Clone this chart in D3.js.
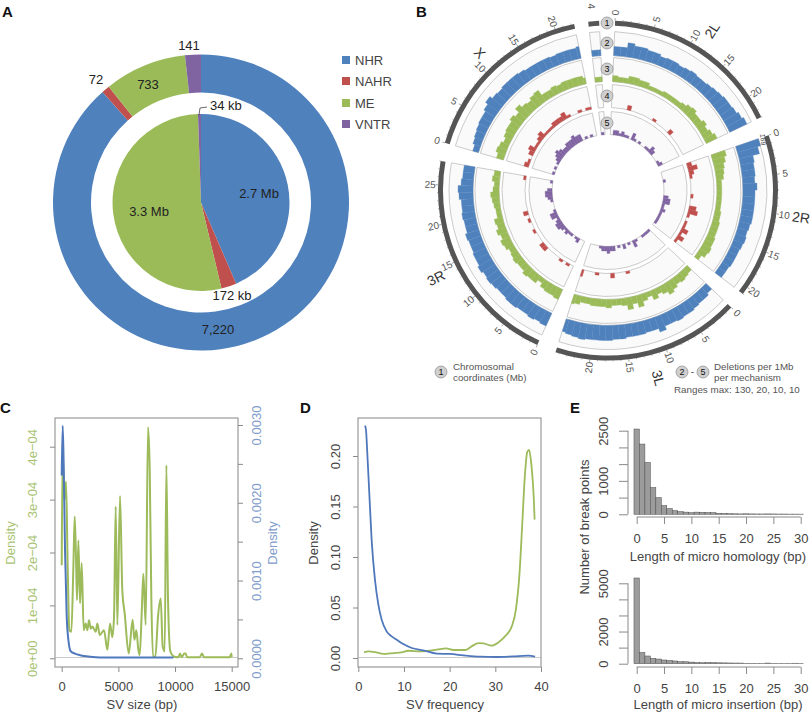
<!DOCTYPE html>
<html><head><meta charset="utf-8">
<script src="https://cdn.jsdelivr.net/npm/d3@7/dist/d3.min.js"></script>
<style>html,body{margin:0;padding:0;background:#fff}svg{display:block;font-family:"Liberation Sans",Arial,sans-serif}</style>
</head><body><svg id="c" width="810" height="713"></svg>
<script>
// ---- Panel A
const mechanisms = ["NHR","NAHR","ME","VNTR"];
const mechColors = ["#4F81BD","#C0504D","#9BBB59","#8064A2"];
const svCounts = [7220,72,733,141];
const svBases = [2700,172,3300,34];
// ---- Panel B: per-1Mb bins (track 2 blue, 3 green, 4 red, 5 purple)
const chromNames = ["2L","2R","3L","3R","X","4"];
const chromLengths = [23,21,24.5,28,22.4,1.35];
const chromStartDeg = [2.4,71,133.5,204.6,286.3,353.3];
const chromEndDeg = [64.4,127.5,198,280,348.5,357];
const chromLabelDeg = [33,98,165,243,317,null];
const chromLabelRadius = [191,195,194,193,188,null];
const blueNHR = [
 [49,49,76,65,65,59,59,49,54,54,49,54,59,54,54,59,65,70,76,76,81,92,103],
 [130,113,76,70,70,65,76,65,65,65,65,65,59,54,59,54,49,49,49,43,43],
 [43,54,54,59,65,65,70,65,65,86,65,65,70,70,70,76,76,81,81,81,81,86,81,76,70],
 [76,70,76,70,70,76,76,70,70,76,81,76,86,76,76,70,70,76,65,65,70,65,65,76,81,65,59,59],
 [32,43,49,54,59,59,70,86,70,65,70,70,70,65,59,59,59,59,54,59,59,59,65],
 [32,32]];
const greenME = [
 [5,4,4,6,6,5,5,3,3,3,4,4,4,4,5,7,8,6,6,8,6,8,10],
 [12,10,8,7,6,4,4,4,4,4,4,5,5,6,6,6,7,7,8,7,4],
 [5,6,7,6,8,10,7,5,8,4,6,10,6,10,6,5,5,7,6,6,6,5,5,7,8],
 [9,8,8,7,4,7,7,8,6,6,7,6,5,7,8,6,8,6,7,4,4,5,6,7,5,4,6,5],
 [6,8,7,5,7,8,8,10,8,12,9,8,10,11,6,6,7,6,7,7,7,7,5],
 [4,4]];
const redNAHR = [
 [0,0,0,0,2,0,0,0,0,0,0,1,0,0,0,0,2,0,0,0,0,0,0],
 [2,4,2,1,0,0,0,0,1,0,0,3,4,1,0,1,1,3,1,3,1],
 [0,0,0,0,0,0,0,0,0,0,0,0,1,0,0,0,2,0,0,0,1,0,0,0,3],
 [0,1,0,1,0,0,0,0,2,2,0,0,0,1,0,0,1,0,2,0,0,0,0,0,0,0,0,1],
 [2,1,0,2,3,1,1,2,3,1,1,1,2,2,2,3,1,0,0,1,0,1,1],
 [0,0]];
const purpleVNTR = [
 [0,2,2,1,2,1,1,0,3,1,0,1,0,0,1,1,3,2,0,0,0,1,2],
 [0,0,0,1,0,0,0,0,0,2,3,3,1,1,2,1,1,1,1,1,0],
 [1,1,1,1,0,0,1,3,0,1,0,2,0,1,0,2,2,3,2,2,1,0,0,0,0],
 [0,0,2,1,0,1,1,2,1,2,3,3,2,1,3,3,1,0,0,0,1,2,3,3,2,0,0,1],
 [1,0,1,0,1,2,3,4,3,2,2,3,3,3,4,3,3,0,1,0,1,0,0],
 [1,0]];
const trackNames = ["blue","green","red","purple"];
const trackData = [blueNHR,greenME,redNAHR,purpleVNTR];
const trackMax = [130,20,10,10];
const trackColors = ["#4F81BD","#9BBB59","#C0504D","#8064A2"];
const trackInner = [135,109,83,56];
const trackOuter = [159,133,106,79];
// ---- Panel C
const sizeGreenX = [0,88,235,382,529,676,852,1029,1147,1265,1352,1470,1617,1764,1940,2117,2264,2411,2558,2705,3000,3147,3352,3587,3734,4029,4264,4470,4617,4764,4911,5146,5352,5558,5911,6264,6411,6587,6764,6882,7058,7205,7411,7617,7764,7911,8058,8264,8499,8735,8911,9088,9235,9382,9588,9940,10293,10440,10588,10823,10940,11058,12176,12382,12558,14823,14970,15000];
const densGreen = [1.76e-4,3.97e-4,2.99e-4,3.34e-4,1.73e-4,5.3e-5,5e-5,1.73e-4,2.68e-4,1.86e-4,1.1e-4,2.23e-4,1.04e-4,1.8e-4,5.3e-5,6.6e-5,5.3e-5,7.2e-5,5.6e-5,6e-5,5e-5,6.6e-5,4.4e-5,5e-5,5.3e-5,1.6e-5,6.6e-5,4e-5,7.9e-5,2.87e-4,6.3e-5,3.07e-4,1.26e-4,8.5e-5,9e-6,7.3e-5,3.5e-5,5.3e-5,1.6e-5,6e-6,8.5e-5,1.6e-4,6.3e-5,4.37e-4,3.6e-4,1.1e-4,3e-6,3e-6,7.9e-5,1.13e-4,2.2e-5,1.3e-5,3.65e-4,1.1e-4,1.3e-5,3e-6,2e-6,9e-6,2e-6,9e-6,9e-6,2e-6,2e-6,9e-6,2e-6,2e-6,9e-6,2e-6];
const sizeBlueX = [0,88,176,294,441,588,794,1176,1617,2500,3382,6323,9853];
const densBlue = [0.00235,0.00299,0.00247,0.00139,0.00054,0.00024,0.00009,0.00006,0.00004,0.00002,0.00001,0.00001,0.00001];
const sizeTicks = [0,5000,10000,15000];
const greenAxisTicks = [0,1e-4,2e-4,3e-4,4e-4];
const greenAxisLabels = ["0e+00","1e\u221204","2e\u221204","3e\u221204","4e\u221204"];
const blueAxisTicks = [0,0.0005,0.001,0.0015,0.002,0.0025,0.003];
const blueAxisLabels = ["0.0000","","0.0010","","0.0020","","0.0030"];
// ---- Panel D
const freqBlueX = [1.46,1.68,1.97,2.41,2.92,3.65,4.38,5.11,6.2,7.3,8.4,9.85,11.7,14.2,17.2,20.1,23,26.6,30.3,33.9,37.2,38.7];
const freqBlueY = [0.23,0.226,0.203,0.163,0.117,0.0775,0.053,0.038,0.0264,0.0214,0.0181,0.0138,0.0099,0.0076,0.0043,0.004,0.0026,0.0013,0.001,0.0016,0.0023,0.0013];
const freqGreenX = [1.25,2.2,3.65,5.5,7.7,9.5,10.9,13.5,17.2,19.2,20.8,23.4,24.8,26.3,27.4,29.2,30.7,32.1,33.6,34.5,35.3,35.9,36.5,37,37.4,37.9,38.4,38.6];
const freqGreenY = [0.0056,0.0066,0.0059,0.0040,0.0049,0.0056,0.0072,0.0066,0.0082,0.0095,0.0079,0.0079,0.0115,0.0148,0.0145,0.0122,0.0155,0.0214,0.0313,0.0478,0.0840,0.1330,0.1825,0.2040,0.2060,0.1910,0.1600,0.1370];
const freqTicksX = [0,10,20,30,40];
const freqTicksY = [0,0.05,0.1,0.15,0.2];
// ---- Panel E
const homologyLen = d3.range(0,31);
const homologyCount = [2550,2100,1550,800,500,260,170,110,80,65,50,65,60,55,50,30,25,20,15,12,15,12,10,10,12,10,8,8,6,6,5];
const insertionLen = d3.range(0,31);
const insertionCount = [5330,700,480,330,290,230,200,170,130,120,100,70,60,70,65,55,50,45,40,40,25,25,20,20,40,20,15,15,15,30,15];
const homologyTicksY = [0,500,1000,1500,2000,2500];
const homologyLabelsY = ["0","","1000","","","2500"];
const insertionTicksY = [0,1000,2000,3000,4000,5000];
const insertionLabelsY = ["0","","2000","","","5000"];
const lenTicks = [0,5,10,15,20,25,30];

const svg = d3.select("#c");
const textCol = "#444", axisCol = "#8a8a8a";
const T = (g,x,y,s,o={})=>g.append("text").attr("x",x).attr("y",y).text(s)
  .attr("font-size",o.size||13).attr("fill",o.fill||textCol)
  .attr("text-anchor",o.anchor||"start").attr("font-weight",o.weight||"normal")
  .attr("transform",o.rot!=null?`rotate(${o.rot} ${x} ${y})`:null);

[["A",2,17],["B",416,17],["C",0,413],["D",300,413],["E",570,413]].forEach(d=>T(svg,d[1],d[2],d[0],{size:15,weight:"bold",fill:"#111"}));

// ---------- A
const gA = svg.append("g").attr("transform","translate(201,202.5)");
const pie = d3.pie().sort(null);
const arcOuter = d3.arc().innerRadius(110).outerRadius(148);
const arcInner = d3.arc().innerRadius(0).outerRadius(88.5);
gA.selectAll(".o").data(pie(svCounts)).join("path").attr("d",arcOuter).attr("fill",(d,i)=>mechColors[i]);
gA.selectAll(".i").data(pie(svBases)).join("path").attr("d",arcInner).attr("fill",(d,i)=>mechColors[i]);
const pieText = {size:13,fill:"#222"};
[["141",189,50],["72",96,84],["733",148,89],["2.7 Mb",259,198],["3.3 Mb",149,216],["172 kb",232,300],["7,220",218,334]]
 .forEach(d=>T(svg,d[1],d[2],d[0],{...pieText,anchor:"middle"}));
T(svg,210,110,"34 kb",pieText);
svg.append("path").attr("d","M199,115L200,108L207,107").attr("fill","none").attr("stroke","#444").attr("stroke-width",.8);
mechanisms.forEach((m,i)=>{
  const y=[60,81,103,124][i];
  svg.append("rect").attr("x",342).attr("y",y-4).attr("width",8).attr("height",8).attr("fill",mechColors[i]);
  T(svg,355,y+4.5,m,{size:13,fill:"#444"});
});

// ---------- B
const gB = svg.append("g").attr("transform","translate(608,190.5)");
const rad = d=>d*Math.PI/180;
const mkArc = d3.arc();
chromNames.forEach((name,c)=>{
  const ang = d3.scaleLinear().domain([0,chromLengths[c]]).range([rad(chromStartDeg[c]),rad(chromEndDeg[c])]);
  gB.append("path").attr("d",mkArc({innerRadius:165,outerRadius:170,startAngle:ang(0),endAngle:ang(chromLengths[c])})).attr("fill","#555");
  const place=(mb,r)=>{const a=ang(mb);return [Math.sin(a)*r,-Math.cos(a)*r];};
  d3.range(0,Math.floor(chromLengths[c])+1).forEach(mb=>{
    if(name==="4")return;
    const major = mb%5===0;
    const p0=place(mb,170),p1=place(mb,major?172.5:171);
    gB.append("line").attr("x1",p0[0]).attr("y1",p0[1]).attr("x2",p1[0]).attr("y2",p1[1]).attr("stroke","#666").attr("stroke-width",.6);
    if(major){
      const deg=ang(mb)*180/Math.PI, p=place(mb,178);
      const rot=deg<180?deg-90:deg-270;
      gB.append("text").attr("transform",`translate(${p[0]},${p[1]}) rotate(${rot})`).attr("text-anchor","middle").attr("dy","0.35em").attr("font-size",10).attr("fill","#555").text(mb);
    }
  });
  if(name==="4"){
    const p=place(chromLengths[c]/2,185);
    gB.append("text").attr("transform",`translate(${p[0]-1},${p[1]}) rotate(85)`).attr("text-anchor","middle").attr("dy","0.35em").attr("font-size",10).attr("fill","#555").text("4");
  }
  if(chromLabelDeg[c]!=null){
    const a=rad(chromLabelDeg[c]), r=chromLabelRadius[c], deg=chromLabelDeg[c];
    const rot=deg<180?deg-90:deg-270;
    gB.append("text").attr("transform",`translate(${Math.sin(a)*r},${-Math.cos(a)*r}) rotate(${rot})`).attr("text-anchor","middle").attr("dy","0.35em").attr("font-size",14).attr("fill","#333").text(name);
  }
  trackNames.forEach((tn,t)=>{
    const rs=d3.scaleLinear().domain([0,trackMax[t]]).range([trackInner[t],trackOuter[t]]);
    gB.append("path").attr("d",mkArc({innerRadius:trackInner[t],outerRadius:trackOuter[t],startAngle:ang(0),endAngle:ang(chromLengths[c])}))
      .attr("fill","#fafafa").attr("stroke","#b5b5b5").attr("stroke-width",.7);
    gB.append("g").selectAll("path").data(trackData[t][c]).join("path")
      .attr("d",(v,i)=>v>0?mkArc({innerRadius:rs(0),outerRadius:rs(v),startAngle:ang(i),endAngle:ang(Math.min(i+1,chromLengths[c]))}):null)
      .attr("fill",trackColors[t]).attr("stroke",trackColors[t]).attr("stroke-width",.35);
  });
});
gB.append("text").attr("transform","translate(155,-51) rotate(85)").attr("text-anchor","middle").attr("dy","0.35em").attr("font-size",7).attr("fill","#444").text("169");

const badge=(x,y,s)=>{
  svg.append("circle").attr("cx",x).attr("cy",y).attr("r",6).attr("fill","#cfcfcf").attr("stroke","#8a8a8a").attr("stroke-width",.7);
  T(svg,x,y+3.2,s,{size:9,anchor:"middle",fill:"#111"});
};
["1","2","3","4","5"].forEach((s,i)=>badge(607,[23,43,69,96,123][i],s));
badge(441,372,"1"); badge(682,372,"2"); badge(703,372,"5");
T(svg,692.5,375,"-",{size:10,anchor:"middle",fill:"#555"});
const noteText={size:9.8,fill:"#555"};
T(svg,453,369.5,"Chromosomal",noteText); T(svg,453,381,"coordinates (Mb)",noteText);
T(svg,714,369.5,"Deletions per 1Mb",noteText); T(svg,714,381,"per mechanism",noteText);
T(svg,674,393,"Ranges max: 130, 20, 10, 10",noteText);

// ---------- axis helpers
function styleAxis(g,color){
  g.selectAll("line").attr("stroke",axisCol);
  g.select(".domain").attr("stroke",axisCol);
  g.selectAll("text").attr("fill",color||textCol).attr("font-size",13).attr("font-family","Liberation Sans");
}
function rotLabels(g,off,color){
  g.selectAll("text").attr("transform",`translate(${off},0) rotate(-90)`).attr("x",0).attr("y",0).attr("dy",0).attr("text-anchor","middle").attr("fill",color||textCol).attr("font-size",13);
}
const noDomain=g=>g.select(".domain").remove();
const curve = d3.curveMonotoneX;
const box=(x,y,w,h)=>svg.append("rect").attr("x",x).attr("y",y).attr("width",w).attr("height",h).attr("fill","none").attr("stroke","#9a9a9a").attr("stroke-width",1.2);
const zeroLine=(x1,x2,y)=>svg.append("line").attr("x1",x1).attr("x2",x2).attr("y1",y).attr("y2",y).attr("stroke","#ccc").attr("stroke-width",1);

// ---------- C
const greenLabel="#a9c373", blueLabel="#7f9ccb";
const xC=d3.scaleLinear().domain([0,15000]).range([61.7,231.7]);
const yCg=d3.scaleLinear().domain([0,4e-4]).range([658.3,446.7]);
const yCb=d3.scaleLinear().domain([0,0.003]).range([658.3,425]);
zeroLine(55,238,657.5);
svg.append("path").attr("d",d3.line().x((d,i)=>xC(sizeGreenX[i])).y(d=>yCg(d)).curve(curve)(densGreen)).attr("fill","none").attr("stroke","#9DBB5A").attr("stroke-width",2);
svg.append("path").attr("d",d3.line().x((d,i)=>xC(sizeBlueX[i])).y(d=>yCb(d)).curve(curve)(densBlue)).attr("fill","none").attr("stroke","#4F78BC").attr("stroke-width",2);
box(55,418,183,249);
let ax=svg.append("g").attr("transform","translate(0,667)").call(d3.axisBottom(xC).tickValues(sizeTicks).tickSize(5).tickPadding(10).tickFormat(d3.format("d")));
styleAxis(ax); noDomain(ax);
ax=svg.append("g").attr("transform","translate(55,0)").call(d3.axisLeft(yCg).tickValues(greenAxisTicks).tickSize(5).tickFormat((d,i)=>greenAxisLabels[i]));
styleAxis(ax); noDomain(ax); rotLabels(ax,-18,greenLabel);
ax=svg.append("g").attr("transform","translate(238,0)").call(d3.axisRight(yCb).tickValues(blueAxisTicks).tickSize(5).tickFormat((d,i)=>blueAxisLabels[i]));
styleAxis(ax); noDomain(ax); rotLabels(ax,23,blueLabel);
T(svg,15,543,"Density",{anchor:"middle",rot:-90,fill:greenLabel});
T(svg,277,543,"Density",{anchor:"middle",rot:-90,fill:blueLabel});
T(svg,142,709,"SV size (bp)",{anchor:"middle"});

// ---------- D
const xD=d3.scaleLinear().domain([0,40]).range([358.3,541]);
const yD=d3.scaleLinear().domain([0,0.2]).range([658,456]);
zeroLine(358,541,657.5);
svg.append("path").attr("d",d3.line().x((d,i)=>xD(freqGreenX[i])).y(d=>yD(d)).curve(curve)(freqGreenY)).attr("fill","none").attr("stroke","#9DBB5A").attr("stroke-width",1.8);
svg.append("path").attr("d",d3.line().x((d,i)=>xD(freqBlueX[i])).y(d=>yD(d)).curve(curve)(freqBlueY)).attr("fill","none").attr("stroke","#4F78BC").attr("stroke-width",1.8);
box(358,418,183,249);
ax=svg.append("g").attr("transform","translate(0,667)").call(d3.axisBottom(xD).tickValues(freqTicksX).tickSize(5).tickPadding(10).tickFormat(d3.format("d")));
styleAxis(ax); noDomain(ax);
ax=svg.append("g").attr("transform","translate(358,0)").call(d3.axisLeft(yD).tickValues(freqTicksY).tickSize(5).tickFormat(d3.format(".2f")));
styleAxis(ax); noDomain(ax); rotLabels(ax,-18);
T(svg,318,543,"Density",{anchor:"middle",rot:-90});
T(svg,445,709,"SV frequency",{anchor:"middle"});

// ---------- E
function hist(lens,counts,y0,yTop,maxTick,ticks,labels,axisY,title,labelBase){
  const x=d3.scaleLinear().domain([0,30]).range([636.7,800.7]);
  const y=d3.scaleLinear().domain([0,maxTick]).range([y0,yTop]);
  const bw=x(1)-x(0);
  svg.append("g").selectAll("rect").data(counts).join("rect")
    .attr("x",(d,i)=>x(lens[i])-bw/2).attr("width",bw).attr("y",d=>y(d)).attr("height",d=>y0-y(d))
    .attr("fill","#9c9c9c").attr("stroke","#4d4d4d").attr("stroke-width",.5);
  let a=svg.append("g").attr("transform",`translate(0,${axisY})`).call(d3.axisBottom(x).tickValues(lenTicks).tickSize(7).tickPadding(10).tickSizeOuter(0).tickFormat(d3.format("d")));
  styleAxis(a);
  a.select(".domain").attr("d",`M${x(0)},0H${x(30)}`);
  a=svg.append("g").attr("transform","translate(628,0)").call(d3.axisLeft(y).tickValues(ticks).tickSize(9).tickSizeOuter(0).tickFormat((d,i)=>labels[i]));
  styleAxis(a);
  a.select(".domain").attr("d",`M0,${y(0)}V${y(maxTick)}`);
  rotLabels(a,-20);
  T(svg,718,labelBase,title,{anchor:"middle",size:13});
}
hist(homologyLen,homologyCount,514.3,430.7,2500,homologyTicksY,homologyLabelsY,517,"Length of micro homology (bp)",561);
hist(insertionLen,insertionCount,663.7,583.3,5000,insertionTicksY,insertionLabelsY,667,"Length of micro insertion (bp)",709);
T(svg,589,527,"Number of break points",{anchor:"middle",rot:-90});
</script></body></html>
